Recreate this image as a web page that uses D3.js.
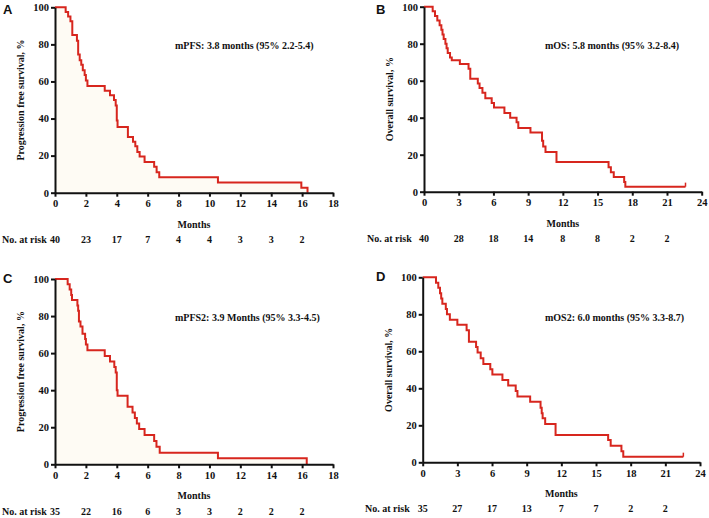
<!DOCTYPE html>
<html>
<head>
<meta charset="utf-8">
<script src="https://cdn.jsdelivr.net/npm/d3@7"></script>
<style>
body { margin: 0; background: #fff; }
text { font-family: "Liberation Serif", "Times New Roman", serif; font-weight: bold; fill: #111; }
.letter { font-family: "Liberation Sans", Arial, sans-serif; font-size: 13px; }
</style>
</head>
<body>
<svg id="chart" width="709" height="518"></svg>
<script>
// Panel A: PFS
const timesA = [0, 0.69, 0.85, 1.0, 1.12, 1.42, 1.5, 1.6, 1.7, 1.8, 1.92, 2.0, 2.1, 3.22, 3.56, 3.82, 3.93, 4.0, 4.05, 4.72, 5.05, 5.2, 5.33, 5.48, 5.8, 6.42, 6.58, 6.75, 10.55, 15.95, 16.35];
const survA  = [100, 97.5, 95, 92.5, 85, 82, 74.5, 71.5, 69, 66, 63.5, 60.5, 57.5, 55, 52.5, 50, 47, 39, 35.5, 30, 27.5, 25, 22, 19.5, 16.5, 14, 11, 8.3, 5.5, 2.7, 0];
const riskA  = [40, 23, 17, 7, 4, 4, 3, 3, 2];

// Panel B: OS
const timesB = [0, 0.75, 0.95, 1.15, 1.35, 1.5, 1.6, 1.7, 1.85, 1.95, 2.05, 2.25, 2.4, 3.1, 3.85, 4.0, 4.65, 4.8, 5.05, 5.3, 5.85, 6.05, 6.95, 7.45, 8.0, 8.15, 9.2, 10.2, 10.3, 10.5, 11.45, 15.95, 16.15, 16.4, 17.3, 17.4, 22.6];
const survB  = [100, 97.5, 95, 92.5, 90, 87.5, 85, 82.5, 80, 77.5, 75, 72.5, 71, 69, 66.5, 61, 58.5, 56, 53.5, 50.5, 48, 45.5, 42.5, 40, 37.5, 34.5, 32, 27.5, 24.5, 21.5, 16, 13.2, 10.5, 8, 5.3, 2.7, 2.7];
const riskB  = [40, 28, 18, 14, 8, 8, 2, 2];

// Panel C: PFS2
const timesC = [0, 0.82, 0.95, 1.05, 1.1, 1.45, 1.5, 1.55, 1.65, 1.78, 1.95, 2.0, 2.1, 3.22, 3.56, 3.84, 3.93, 4.0, 4.05, 4.7, 5.02, 5.17, 5.3, 5.45, 5.8, 6.42, 6.57, 6.78, 10.55, 16.3];
const survC  = [100, 97.1, 94.3, 91.4, 88.6, 85.7, 82.9, 77.1, 74.3, 70.5, 67.6, 64.7, 61.5, 58.5, 55.5, 52.5, 49.5, 40, 37, 31, 28, 25, 22, 19, 15.8, 12.6, 9.5, 6.3, 3.2, 0];
const riskC  = [35, 22, 16, 6, 3, 3, 2, 2, 2];

// Panel D: OS2
const timesD = [0, 1.15, 1.35, 1.5, 1.6, 1.7, 2.0, 2.1, 2.35, 3.0, 3.8, 4.0, 4.62, 4.75, 5.02, 5.25, 5.85, 6.03, 6.9, 7.4, 8.05, 8.2, 9.3, 10.2, 10.3, 10.38, 10.6, 11.5, 16.05, 16.27, 17.2, 17.36, 22.56];
const survD  = [100, 97.1, 94.3, 91.4, 88.6, 85.7, 82.9, 80, 77.1, 74.3, 71.4, 65.2, 62.3, 59.4, 56.2, 53.2, 50.3, 47.4, 44.5, 41.5, 38.6, 35.6, 32.7, 29.5, 26.5, 23.8, 20.7, 14.8, 12, 9, 6, 3, 3];
const riskD  = [35, 27, 17, 13, 7, 7, 2, 2];

const yTicks = [0, 20, 40, 60, 80, 100];

const panels = [
	{letter: "A", lx: 3, ly: 14, x0: 55, x1: 333, yTop: 7.3, yBot: 192.7, xmax: 18, step: 2, times: timesA, surv: survA, risk: riskA,
	 ylab: "Progression free survival, %", note: "mPFS: 3.8 months (95% 2.2-5.4)", nx: 175, ny: 49, riskY: 243, riskLab: 2, fill: true, censor: false},
	{letter: "B", lx: 376, ly: 14, x0: 424, x1: 701.7, yTop: 6.7, yBot: 191.7, xmax: 24, step: 3, times: timesB, surv: survB, risk: riskB,
	 ylab: "Overall survival, %", note: "mOS: 5.8 months (95% 3.2-8.4)", nx: 545, ny: 49, riskY: 242, riskLab: 367, fill: false, censor: true},
	{letter: "C", lx: 3, ly: 283, x0: 55, x1: 333, yTop: 279, yBot: 464.3, xmax: 18, step: 2, times: timesC, surv: survC, risk: riskC,
	 ylab: "Progression free survival, %", note: "mPFS2: 3.9 Months (95% 3.3-4.5)", nx: 175, ny: 321, riskY: 515, riskLab: 2, fill: true, censor: false},
	{letter: "D", lx: 376, ly: 281, x0: 422.7, x1: 700, yTop: 277.3, yBot: 462.3, xmax: 24, step: 3, times: timesD, surv: survD, risk: riskD,
	 ylab: "Overall survival, %", note: "mOS2: 6.0 months (95% 3.3-8.7)", nx: 545, ny: 321, riskY: 512, riskLab: 365, fill: false, censor: true}
];

const svg = d3.select("#chart");

panels.forEach(p => {
	const g = svg.append("g");
	const x = d3.scaleLinear().domain([0, p.xmax]).range([p.x0, p.x1]);
	const y = d3.scaleLinear().domain([0, 100]).range([p.yBot, p.yTop]);
	const pts = p.times.map((t, i) => [t, p.surv[i]]);

	// faint shading under the PFS curves
	if (p.fill) {
		const area = d3.area().curve(d3.curveStepAfter)
			.x(d => x(d[0])).y0(y(0)).y1(d => y(d[1]));
		g.append("path").datum(pts).attr("d", area).attr("fill", "#fefbf4");
	}

	const line = d3.line().curve(d3.curveStepAfter).x(d => x(d[0])).y(d => y(d[1]));
	g.append("path").datum(pts).attr("d", line)
		.attr("fill", "none").attr("stroke", "#d7261e").attr("stroke-width", 2);

	if (p.censor) {
		const last = pts[pts.length - 1];
		g.append("line")
			.attr("x1", x(last[0])).attr("x2", x(last[0]))
			.attr("y1", y(last[1])).attr("y2", y(last[1] + 2.2))
			.attr("stroke", "#d7261e").attr("stroke-width", 1.5);
	}

	const xAxis = g.append("g").attr("transform", `translate(0,${p.yBot})`)
		.call(d3.axisBottom(x).tickValues(d3.range(0, p.xmax + 1, p.step)).tickSize(4).tickSizeOuter(0).tickPadding(3));
	const yAxis = g.append("g").attr("transform", `translate(${p.x0},0)`)
		.call(d3.axisLeft(y).tickValues(yTicks).tickSize(4).tickSizeOuter(0).tickPadding(2));
	[xAxis, yAxis].forEach(a => {
		a.select(".domain").attr("stroke", "#111").attr("stroke-width", 2);
		a.selectAll(".tick line").attr("stroke", "#111").attr("stroke-width", 2);
		a.selectAll(".tick text").style("font-family", "Liberation Serif, serif").style("font-weight", "bold").style("font-size", "10.5px").attr("fill", "#111");
	});

	g.append("text").attr("class", "letter").attr("x", p.lx).attr("y", p.ly).text(p.letter);

	g.append("text")
		.attr("transform", `translate(${p.x0 - 31},${(p.yTop + p.yBot) / 2}) rotate(-90)`)
		.attr("text-anchor", "middle").style("font-size", "10px").text(p.ylab);

	g.append("text").attr("x", p.nx).attr("y", p.ny).style("font-size", "10px").text(p.note);

	g.append("text").attr("x", (p.x0 + p.x1) / 2).attr("y", p.yBot + 35)
		.attr("text-anchor", "middle").style("font-size", "10px").text("Months");

	g.append("text").attr("x", p.riskLab).attr("y", p.riskY).style("font-size", "10px").text("No. at risk");
	g.selectAll(".risk").data(p.risk).enter().append("text")
		.attr("class", "risk")
		.attr("x", (d, i) => x(i * p.step)).attr("y", p.riskY)
		.attr("text-anchor", "middle").style("font-size", "10px").text(d => d);
});
</script>
</body>
</html>
